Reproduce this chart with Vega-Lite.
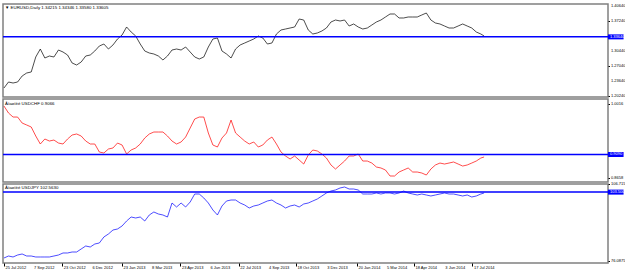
{
  "$schema": "https://vega.github.io/schema/vega-lite/v6.json",
  "padding": {"left": 1, "top": 3, "right": 0, "bottom": 0},
  "background": "white",
  "spacing": 2,
  "bounds": "flush",
  "config": {
    "view": {"stroke": "#808080", "strokeWidth": 1.5},
    "font": "Liberation Sans",
    "axis": {"grid": false, "domain": false, "tickColor": "#000000", "tickSize": 1.5, "labels": false, "title": null}
  },
  "datasets": {
    "fx": [
      {"d":"2012-07-25","e":1.2205,"c":0.9979,"j":77.38},
      {"d":"2012-08-01","e":1.2341,"c":0.9851,"j":78.17},
      {"d":"2012-08-08","e":1.2318,"c":0.9777,"j":77.78},
      {"d":"2012-08-15","e":1.2341,"c":0.9777,"j":78.57},
      {"d":"2012-08-22","e":1.2477,"c":0.9667,"j":78.97},
      {"d":"2012-08-29","e":1.2545,"c":0.9631,"j":78.17},
      {"d":"2012-09-05","e":1.2568,"c":0.9594,"j":78.17},
      {"d":"2012-09-12","e":1.2908,"c":0.9429,"j":77.78},
      {"d":"2012-09-19","e":1.3089,"c":0.9282,"j":77.78},
      {"d":"2012-09-26","e":1.2885,"c":0.9374,"j":77.78},
      {"d":"2012-10-03","e":1.2930,"c":0.9337,"j":77.78},
      {"d":"2012-10-10","e":1.2908,"c":0.9355,"j":78.17},
      {"d":"2012-10-17","e":1.3066,"c":0.9300,"j":78.57},
      {"d":"2012-10-24","e":1.3021,"c":0.9282,"j":79.37},
      {"d":"2012-10-31","e":1.2953,"c":0.9374,"j":79.37},
      {"d":"2012-11-07","e":1.2772,"c":0.9447,"j":79.76},
      {"d":"2012-11-14","e":1.2726,"c":0.9466,"j":79.76},
      {"d":"2012-11-21","e":1.2794,"c":0.9429,"j":80.95},
      {"d":"2012-11-28","e":1.2930,"c":0.9337,"j":82.14},
      {"d":"2012-12-05","e":1.2953,"c":0.9282,"j":81.74},
      {"d":"2012-12-12","e":1.3044,"c":0.9282,"j":82.93},
      {"d":"2012-12-19","e":1.3157,"c":0.9135,"j":83.33},
      {"d":"2012-12-26","e":1.3202,"c":0.9117,"j":85.71},
      {"d":"2013-01-02","e":1.3089,"c":0.9190,"j":86.90},
      {"d":"2013-01-09","e":1.3180,"c":0.9209,"j":88.48},
      {"d":"2013-01-16","e":1.3316,"c":0.9300,"j":88.88},
      {"d":"2013-01-23","e":1.3406,"c":0.9264,"j":90.07},
      {"d":"2013-01-30","e":1.3588,"c":0.9099,"j":92.05},
      {"d":"2013-02-06","e":1.3474,"c":0.9172,"j":93.63},
      {"d":"2013-02-13","e":1.3384,"c":0.9209,"j":93.24},
      {"d":"2013-02-20","e":1.3202,"c":0.9282,"j":93.63},
      {"d":"2013-02-27","e":1.3044,"c":0.9392,"j":92.05},
      {"d":"2013-03-06","e":1.2998,"c":0.9466,"j":94.43},
      {"d":"2013-03-13","e":1.2976,"c":0.9502,"j":95.62},
      {"d":"2013-03-20","e":1.2930,"c":0.9502,"j":94.82},
      {"d":"2013-03-27","e":1.2840,"c":0.9502,"j":94.43},
      {"d":"2013-04-03","e":1.2930,"c":0.9429,"j":93.63},
      {"d":"2013-04-10","e":1.3066,"c":0.9337,"j":99.18},
      {"d":"2013-04-17","e":1.3089,"c":0.9282,"j":97.60},
      {"d":"2013-04-24","e":1.3066,"c":0.9319,"j":99.18},
      {"d":"2013-05-01","e":1.3134,"c":0.9410,"j":97.60},
      {"d":"2013-05-08","e":1.3021,"c":0.9576,"j":99.58},
      {"d":"2013-05-15","e":1.2908,"c":0.9741,"j":102.75},
      {"d":"2013-05-22","e":1.2862,"c":0.9777,"j":102.75},
      {"d":"2013-05-29","e":1.2908,"c":0.9777,"j":101.17},
      {"d":"2013-06-05","e":1.3134,"c":0.9484,"j":99.18},
      {"d":"2013-06-12","e":1.3316,"c":0.9264,"j":96.41},
      {"d":"2013-06-19","e":1.3338,"c":0.9227,"j":94.43},
      {"d":"2013-06-26","e":1.3044,"c":0.9392,"j":97.99},
      {"d":"2013-07-03","e":1.2976,"c":0.9484,"j":99.98},
      {"d":"2013-07-10","e":1.2885,"c":0.9722,"j":100.37},
      {"d":"2013-07-17","e":1.3089,"c":0.9484,"j":100.37},
      {"d":"2013-07-24","e":1.3180,"c":0.9410,"j":99.18},
      {"d":"2013-07-31","e":1.3225,"c":0.9337,"j":98.39},
      {"d":"2013-08-07","e":1.3270,"c":0.9282,"j":97.20},
      {"d":"2013-08-14","e":1.3316,"c":0.9319,"j":97.99},
      {"d":"2013-08-21","e":1.3384,"c":0.9227,"j":98.39},
      {"d":"2013-08-28","e":1.3338,"c":0.9264,"j":99.18},
      {"d":"2013-09-04","e":1.3202,"c":0.9355,"j":99.98},
      {"d":"2013-09-11","e":1.3225,"c":0.9410,"j":100.37},
      {"d":"2013-09-18","e":1.3429,"c":0.9282,"j":99.18},
      {"d":"2013-09-25","e":1.3520,"c":0.9135,"j":98.39},
      {"d":"2013-10-02","e":1.3542,"c":0.9062,"j":97.20},
      {"d":"2013-10-09","e":1.3565,"c":0.9007,"j":97.99},
      {"d":"2013-10-16","e":1.3588,"c":0.9062,"j":98.39},
      {"d":"2013-10-23","e":1.3769,"c":0.8988,"j":97.60},
      {"d":"2013-10-30","e":1.3746,"c":0.8915,"j":98.79},
      {"d":"2013-11-06","e":1.3520,"c":0.9080,"j":99.18},
      {"d":"2013-11-13","e":1.3429,"c":0.9172,"j":99.98},
      {"d":"2013-11-20","e":1.3452,"c":0.9154,"j":100.77},
      {"d":"2013-11-27","e":1.3497,"c":0.9099,"j":101.96},
      {"d":"2013-12-04","e":1.3565,"c":0.9025,"j":103.15},
      {"d":"2013-12-11","e":1.3701,"c":0.8897,"j":103.94},
      {"d":"2013-12-18","e":1.3746,"c":0.8823,"j":104.34},
      {"d":"2013-12-25","e":1.3724,"c":0.8897,"j":105.13},
      {"d":"2014-01-01","e":1.3746,"c":0.8970,"j":105.53},
      {"d":"2014-01-08","e":1.3610,"c":0.9062,"j":104.73},
      {"d":"2014-01-15","e":1.3656,"c":0.9062,"j":104.73},
      {"d":"2014-01-22","e":1.3588,"c":0.9099,"j":104.34},
      {"d":"2014-01-29","e":1.3542,"c":0.8970,"j":102.75},
      {"d":"2014-02-05","e":1.3565,"c":0.8970,"j":102.75},
      {"d":"2014-02-12","e":1.3633,"c":0.8933,"j":102.75},
      {"d":"2014-02-19","e":1.3701,"c":0.8860,"j":103.15},
      {"d":"2014-02-26","e":1.3746,"c":0.8842,"j":102.75},
      {"d":"2014-03-05","e":1.3814,"c":0.8805,"j":103.15},
      {"d":"2014-03-12","e":1.3882,"c":0.8695,"j":103.15},
      {"d":"2014-03-19","e":1.3882,"c":0.8695,"j":102.75},
      {"d":"2014-03-26","e":1.3792,"c":0.8768,"j":103.15},
      {"d":"2014-04-02","e":1.3792,"c":0.8805,"j":103.94},
      {"d":"2014-04-09","e":1.3814,"c":0.8842,"j":103.15},
      {"d":"2014-04-16","e":1.3814,"c":0.8768,"j":102.75},
      {"d":"2014-04-23","e":1.3814,"c":0.8768,"j":102.36},
      {"d":"2014-04-30","e":1.3860,"c":0.8750,"j":102.75},
      {"d":"2014-05-07","e":1.3905,"c":0.8713,"j":102.36},
      {"d":"2014-05-14","e":1.3746,"c":0.8823,"j":101.96},
      {"d":"2014-05-21","e":1.3678,"c":0.8897,"j":102.36},
      {"d":"2014-05-28","e":1.3656,"c":0.8933,"j":102.75},
      {"d":"2014-06-04","e":1.3610,"c":0.8915,"j":103.15},
      {"d":"2014-06-11","e":1.3565,"c":0.8933,"j":102.75},
      {"d":"2014-06-18","e":1.3565,"c":0.8952,"j":102.75},
      {"d":"2014-06-25","e":1.3610,"c":0.8915,"j":102.36},
      {"d":"2014-07-02","e":1.3656,"c":0.8878,"j":101.96},
      {"d":"2014-07-09","e":1.3610,"c":0.8897,"j":102.36},
      {"d":"2014-07-16","e":1.3565,"c":0.8933,"j":101.56},
      {"d":"2014-07-23","e":1.3474,"c":0.8970,"j":101.96},
      {"d":"2014-07-30","e":1.3429,"c":0.9025,"j":102.75},
      {"d":"2014-08-04","e":1.3384,"c":0.9044,"j":103.15}
    ],
    "levels": [
      {"p": "e", "v": 1.3364, "t": "1.33640"},
      {"p": "c", "v": 0.9090, "t": "0.9090"},
      {"p": "j", "v": 103.5, "t": "103.500"}
    ],
    "heads": [
      {"p": "e", "t": "▼ EURUSD,Daily  1.34215 1.34346 1.33580 1.33605"},
      {"p": "c", "t": "Âíåøíèé USDCHF 0.9066"},
      {"p": "j", "t": "Âíåøíèé USDJPY 102.5630"}
    ],
    "yticks": [
      {"p": "e", "v": 1.4064, "t": "1.40640"},
      {"p": "e", "v": 1.3724, "t": "1.37240"},
      {"p": "e", "v": 1.3044, "t": "1.30440"},
      {"p": "e", "v": 1.2704, "t": "1.27040"},
      {"p": "e", "v": 1.2364, "t": "1.23640"},
      {"p": "e", "v": 1.2024, "t": "1.20240"},
      {"p": "c", "v": 1.0016, "t": "1.0016"},
      {"p": "c", "v": 0.8658, "t": "0.8658"},
      {"p": "j", "v": 106.715, "t": "106.715"},
      {"p": "j", "v": 76.088, "t": "76.0875"}
    ],
    "xticks": [
      {"d": "2012-07-25", "t": "25 Jul 2012"},
      {"d": "2012-09-07", "t": "7 Sep 2012"},
      {"d": "2012-10-23", "t": "23 Oct 2012"},
      {"d": "2012-12-06", "t": "6 Dec 2012"},
      {"d": "2013-01-23", "t": "23 Jan 2013"},
      {"d": "2013-03-08", "t": "8 Mar 2013"},
      {"d": "2013-04-23", "t": "23 Apr 2013"},
      {"d": "2013-06-06", "t": "6 Jun 2013"},
      {"d": "2013-07-22", "t": "22 Jul 2013"},
      {"d": "2013-09-04", "t": "4 Sep 2013"},
      {"d": "2013-10-18", "t": "18 Oct 2013"},
      {"d": "2013-12-03", "t": "3 Dec 2013"},
      {"d": "2014-01-20", "t": "20 Jan 2014"},
      {"d": "2014-03-05", "t": "5 Mar 2014"},
      {"d": "2014-04-18", "t": "18 Apr 2014"},
      {"d": "2014-06-03", "t": "3 Jun 2014"},
      {"d": "2014-07-17", "t": "17 Jul 2014"}
    ]
  },
  "vconcat": [
    {
      "width": 605,
      "height": 93,
      "layer": [
        {
          "data": {"name": "fx"},
          "mark": {"type": "line", "color": "#000000", "strokeWidth": 0.7},
          "encoding": {
            "x": {"field": "d", "type": "temporal", "scale": {"domain": [{"year": 2012, "month": 7, "date": 23, "hours": 12}, {"year": 2015, "month": 2, "date": 11}]}, "axis": null},
            "y": {"field": "e", "type": "quantitative", "scale": {"domain": [1.2001, 1.4109], "zero": false, "nice": false}, "axis": {"orient": "right", "values": [1.4064, 1.3724, 1.3044, 1.2704, 1.2364, 1.2024]}}
          }
        },
        {
          "data": {"name": "yticks"},
          "transform": [{"filter": "datum.p === 'e'"}],
          "mark": {"type": "text", "color": "#000000", "align": "left", "baseline": "middle", "dx": 3, "fontSize": 4},
          "encoding": {
            "y": {"field": "v", "type": "quantitative"},
            "x": {"datum": {"year": 2015, "month": 2, "date": 11}, "type": "temporal"},
            "text": {"field": "t"}
          }
        },
        {
          "data": {"name": "levels"},
          "transform": [{"filter": "datum.p === 'e'"}],
          "mark": {"type": "rule", "color": "#0000ff", "strokeWidth": 1.5},
          "encoding": {"y": {"field": "v", "type": "quantitative"}}
        },
        {
          "data": {"name": "levels"},
          "transform": [{"filter": "datum.p === 'e'"}],
          "mark": {"type": "rule", "color": "#0000ff", "strokeWidth": 5},
          "encoding": {
            "y": {"field": "v", "type": "quantitative"},
            "x": {"datum": {"year": 2015, "month": 2, "date": 11}, "type": "temporal"},
            "x2": {"datum": {"year": 2015, "month": 3, "date": 7}}
          }
        },
        {
          "data": {"name": "levels"},
          "transform": [{"filter": "datum.p === 'e'"}],
          "mark": {"type": "text", "color": "#ffffff", "align": "left", "baseline": "middle", "dx": 2, "fontSize": 4},
          "encoding": {
            "y": {"field": "v", "type": "quantitative"},
            "x": {"datum": {"year": 2015, "month": 2, "date": 11}, "type": "temporal"},
            "text": {"field": "t"}
          }
        },
        {
          "data": {"name": "heads"},
          "transform": [{"filter": "datum.p === 'e'"}],
          "mark": {"type": "text", "color": "#000000", "align": "left", "baseline": "middle", "dx": 2, "dy": 3.5, "fontSize": 4.4},
          "encoding": {
            "x": {"datum": {"year": 2012, "month": 7, "date": 23, "hours": 12}, "type": "temporal"},
            "y": {"datum": 1.4109, "type": "quantitative"},
            "text": {"field": "t"}
          }
        }
      ]
    },
    {
      "width": 605,
      "height": 83,
      "layer": [
        {
          "data": {"name": "fx"},
          "mark": {"type": "line", "color": "#ff0000", "strokeWidth": 0.7},
          "encoding": {
            "x": {"field": "d", "type": "temporal", "scale": {"domain": [{"year": 2012, "month": 7, "date": 23, "hours": 12}, {"year": 2015, "month": 2, "date": 11}]}, "axis": null},
            "y": {"field": "c", "type": "quantitative", "scale": {"domain": [0.8585, 1.0108], "zero": false, "nice": false}, "axis": {"orient": "right", "values": [1.0016, 0.8658]}}
          }
        },
        {
          "data": {"name": "yticks"},
          "transform": [{"filter": "datum.p === 'c'"}],
          "mark": {"type": "text", "color": "#000000", "align": "left", "baseline": "middle", "dx": 3, "fontSize": 4},
          "encoding": {
            "y": {"field": "v", "type": "quantitative"},
            "x": {"datum": {"year": 2015, "month": 2, "date": 11}, "type": "temporal"},
            "text": {"field": "t"}
          }
        },
        {
          "data": {"name": "levels"},
          "transform": [{"filter": "datum.p === 'c'"}],
          "mark": {"type": "rule", "color": "#0000ff", "strokeWidth": 1.5},
          "encoding": {"y": {"field": "v", "type": "quantitative"}}
        },
        {
          "data": {"name": "levels"},
          "transform": [{"filter": "datum.p === 'c'"}],
          "mark": {"type": "rule", "color": "#0000ff", "strokeWidth": 5},
          "encoding": {
            "y": {"field": "v", "type": "quantitative"},
            "x": {"datum": {"year": 2015, "month": 2, "date": 11}, "type": "temporal"},
            "x2": {"datum": {"year": 2015, "month": 3, "date": 7}}
          }
        },
        {
          "data": {"name": "levels"},
          "transform": [{"filter": "datum.p === 'c'"}],
          "mark": {"type": "text", "color": "#ffffff", "align": "left", "baseline": "middle", "dx": 2, "fontSize": 4},
          "encoding": {
            "y": {"field": "v", "type": "quantitative"},
            "x": {"datum": {"year": 2015, "month": 2, "date": 11}, "type": "temporal"},
            "text": {"field": "t"}
          }
        },
        {
          "data": {"name": "heads"},
          "transform": [{"filter": "datum.p === 'c'"}],
          "mark": {"type": "text", "color": "#000000", "align": "left", "baseline": "middle", "dx": 2, "dy": 4.5, "fontSize": 4.4},
          "encoding": {
            "x": {"datum": {"year": 2012, "month": 7, "date": 23, "hours": 12}, "type": "temporal"},
            "y": {"datum": 1.0108, "type": "quantitative"},
            "text": {"field": "t"}
          }
        }
      ]
    },
    {
      "width": 605,
      "height": 79,
      "layer": [
        {
          "data": {"name": "fx"},
          "mark": {"type": "line", "color": "#0000ff", "strokeWidth": 0.7},
          "encoding": {
            "x": {"field": "d", "type": "temporal", "scale": {"domain": [{"year": 2012, "month": 7, "date": 23, "hours": 12}, {"year": 2015, "month": 2, "date": 11}]},
              "axis": {"orient": "bottom", "tickSize": 3, "values": [
                {"year": 2012, "month": 7, "date": 25}, {"year": 2012, "month": 9, "date": 7}, {"year": 2012, "month": 10, "date": 23}, {"year": 2012, "month": 12, "date": 6},
                {"year": 2013, "month": 1, "date": 23}, {"year": 2013, "month": 3, "date": 8}, {"year": 2013, "month": 4, "date": 23}, {"year": 2013, "month": 6, "date": 6},
                {"year": 2013, "month": 7, "date": 22}, {"year": 2013, "month": 9, "date": 4}, {"year": 2013, "month": 10, "date": 18}, {"year": 2013, "month": 12, "date": 3},
                {"year": 2014, "month": 1, "date": 20}, {"year": 2014, "month": 3, "date": 5}, {"year": 2014, "month": 4, "date": 18}, {"year": 2014, "month": 6, "date": 3},
                {"year": 2014, "month": 7, "date": 17}]}},
            "y": {"field": "j", "type": "quantitative", "scale": {"domain": [75.4, 106.715], "zero": false, "nice": false}, "axis": {"orient": "right", "values": [106.715, 76.088]}}
          }
        },
        {
          "data": {"name": "yticks"},
          "transform": [{"filter": "datum.p === 'j'"}],
          "mark": {"type": "text", "color": "#000000", "align": "left", "baseline": "middle", "dx": 3, "fontSize": 4},
          "encoding": {
            "y": {"field": "v", "type": "quantitative"},
            "x": {"datum": {"year": 2015, "month": 2, "date": 11}, "type": "temporal"},
            "text": {"field": "t"}
          }
        },
        {
          "data": {"name": "xticks"},
          "mark": {"type": "text", "color": "#000000", "align": "left", "baseline": "middle", "dx": 1.5, "dy": 4.5, "fontSize": 4},
          "encoding": {
            "x": {"field": "d", "type": "temporal"},
            "y": {"datum": 75.4, "type": "quantitative"},
            "text": {"field": "t"}
          }
        },
        {
          "data": {"name": "levels"},
          "transform": [{"filter": "datum.p === 'j'"}],
          "mark": {"type": "rule", "color": "#0000ff", "strokeWidth": 1.5},
          "encoding": {"y": {"field": "v", "type": "quantitative"}}
        },
        {
          "data": {"name": "levels"},
          "transform": [{"filter": "datum.p === 'j'"}],
          "mark": {"type": "rule", "color": "#0000ff", "strokeWidth": 5},
          "encoding": {
            "y": {"field": "v", "type": "quantitative"},
            "x": {"datum": {"year": 2015, "month": 2, "date": 11}, "type": "temporal"},
            "x2": {"datum": {"year": 2015, "month": 3, "date": 7}}
          }
        },
        {
          "data": {"name": "levels"},
          "transform": [{"filter": "datum.p === 'j'"}],
          "mark": {"type": "text", "color": "#ffffff", "align": "left", "baseline": "middle", "dx": 2, "fontSize": 4},
          "encoding": {
            "y": {"field": "v", "type": "quantitative"},
            "x": {"datum": {"year": 2015, "month": 2, "date": 11}, "type": "temporal"},
            "text": {"field": "t"}
          }
        },
        {
          "data": {"name": "heads"},
          "transform": [{"filter": "datum.p === 'j'"}],
          "mark": {"type": "text", "color": "#000000", "align": "left", "baseline": "middle", "dx": 2, "dy": 3.5, "fontSize": 4.4},
          "encoding": {
            "x": {"datum": {"year": 2012, "month": 7, "date": 23, "hours": 12}, "type": "temporal"},
            "y": {"datum": 106.715, "type": "quantitative"},
            "text": {"field": "t"}
          }
        }
      ]
    }
  ]
}
